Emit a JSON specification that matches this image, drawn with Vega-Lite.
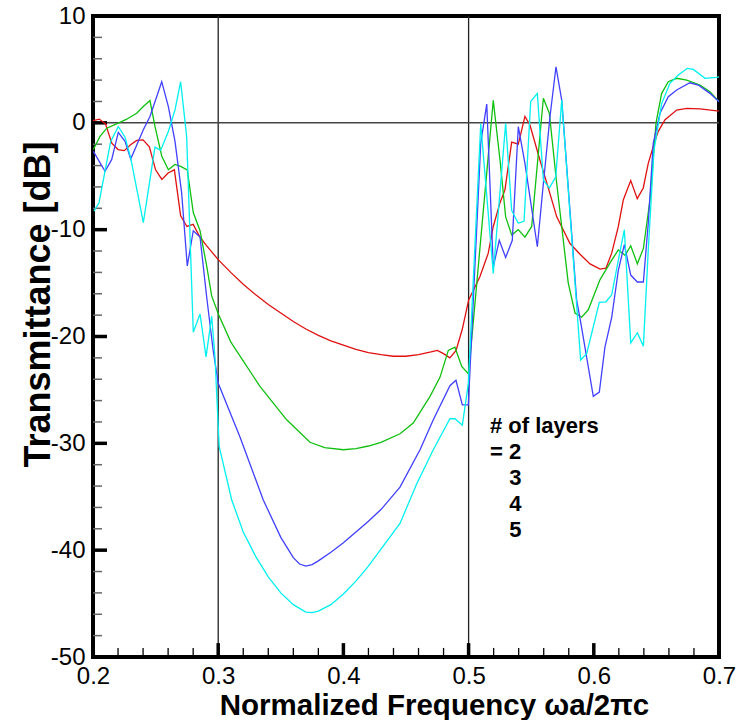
{
  "$schema": "https://vega.github.io/schema/vega-lite/v6.json",
  "width": 626,
  "height": 641,
  "autosize": {"type": "none"},
  "padding": {"left": 93, "top": 16, "right": 22, "bottom": 63},
  "background": "white",
  "config": {
    "font": "Liberation Sans",
    "view": {"stroke": "black", "strokeWidth": 4},
    "axis": {"grid": false, "domain": false, "ticks": false, "labelColor": "black", "titleColor": "black", "labelFont": "Liberation Sans", "titleFont": "Liberation Sans", "labelFlush": false}
  },
  "datasets": {
    "curves": [
      {"f":0.2,"t":0.2,"n":"2"},{"f":0.205,"t":0.35,"n":"2"},{"f":0.21,"t":-0.1,"n":"2"},{"f":0.215,"t":-1.9,"n":"2"},{"f":0.22,"t":-2.5,"n":"2"},{"f":0.225,"t":-2.6,"n":"2"},{"f":0.23,"t":-2.05,"n":"2"},{"f":0.235,"t":-1.65,"n":"2"},{"f":0.24,"t":-1.6,"n":"2"},{"f":0.245,"t":-2.25,"n":"2"},{"f":0.25,"t":-4.4,"n":"2"},{"f":0.255,"t":-5.3,"n":"2"},{"f":0.26,"t":-4.7,"n":"2"},{"f":0.265,"t":-4.4,"n":"2"},{"f":0.27,"t":-8.7,"n":"2"},{"f":0.275,"t":-9.7,"n":"2"},{"f":0.28,"t":-9.5,"n":"2"},{"f":0.285,"t":-10.6,"n":"2"},{"f":0.29,"t":-11.4,"n":"2"},{"f":0.295,"t":-12.1,"n":"2"},{"f":0.3,"t":-12.8,"n":"2"},{"f":0.31,"t":-14.0,"n":"2"},{"f":0.32,"t":-15.1,"n":"2"},{"f":0.33,"t":-16.1,"n":"2"},{"f":0.34,"t":-17.0,"n":"2"},{"f":0.35,"t":-17.8,"n":"2"},{"f":0.36,"t":-18.6,"n":"2"},{"f":0.37,"t":-19.3,"n":"2"},{"f":0.38,"t":-19.9,"n":"2"},{"f":0.39,"t":-20.4,"n":"2"},{"f":0.4,"t":-20.8,"n":"2"},{"f":0.41,"t":-21.2,"n":"2"},{"f":0.42,"t":-21.5,"n":"2"},{"f":0.43,"t":-21.7,"n":"2"},{"f":0.44,"t":-21.85,"n":"2"},{"f":0.45,"t":-21.85,"n":"2"},{"f":0.46,"t":-21.7,"n":"2"},{"f":0.47,"t":-21.45,"n":"2"},{"f":0.475,"t":-21.3,"n":"2"},{"f":0.48,"t":-21.6,"n":"2"},{"f":0.485,"t":-22.0,"n":"2"},{"f":0.49,"t":-21.3,"n":"2"},{"f":0.495,"t":-19.3,"n":"2"},{"f":0.5,"t":-16.6,"n":"2"},{"f":0.509,"t":-14.4,"n":"2"},{"f":0.5157,"t":-12.2,"n":"2"},{"f":0.5197,"t":-9.7,"n":"2"},{"f":0.525,"t":-7.5,"n":"2"},{"f":0.529,"t":-6.3,"n":"2"},{"f":0.5344,"t":-1.8,"n":"2"},{"f":0.5397,"t":-2.0,"n":"2"},{"f":0.545,"t":0.6,"n":"2"},{"f":0.549,"t":-0.2,"n":"2"},{"f":0.557,"t":-3.5,"n":"2"},{"f":0.5624,"t":-5.6,"n":"2"},{"f":0.5704,"t":-8.8,"n":"2"},{"f":0.581,"t":-11.3,"n":"2"},{"f":0.589,"t":-12.3,"n":"2"},{"f":0.597,"t":-13.2,"n":"2"},{"f":0.605,"t":-13.7,"n":"2"},{"f":0.6097,"t":-13.6,"n":"2"},{"f":0.6143,"t":-12.2,"n":"2"},{"f":0.6196,"t":-9.7,"n":"2"},{"f":0.6236,"t":-7.2,"n":"2"},{"f":0.6295,"t":-5.4,"n":"2"},{"f":0.6347,"t":-7.1,"n":"2"},{"f":0.6395,"t":-6.1,"n":"2"},{"f":0.6435,"t":-3.8,"n":"2"},{"f":0.6475,"t":-2.2,"n":"2"},{"f":0.6515,"t":-0.8,"n":"2"},{"f":0.6569,"t":0.3,"n":"2"},{"f":0.6662,"t":1.2,"n":"2"},{"f":0.6742,"t":1.35,"n":"2"},{"f":0.6848,"t":1.3,"n":"2"},{"f":0.7,"t":1.1,"n":"2"},

      {"f":0.2003,"t":-2.5,"n":"3"},{"f":0.2056,"t":-1.27,"n":"3"},{"f":0.211,"t":-0.5,"n":"3"},{"f":0.2202,"t":-0.03,"n":"3"},{"f":0.2269,"t":0.34,"n":"3"},{"f":0.2349,"t":0.9,"n":"3"},{"f":0.2402,"t":1.52,"n":"3"},{"f":0.2455,"t":2.08,"n":"3"},{"f":0.2495,"t":-0.34,"n":"3"},{"f":0.2549,"t":-3.1,"n":"3"},{"f":0.2602,"t":-4.4,"n":"3"},{"f":0.2655,"t":-3.9,"n":"3"},{"f":0.27,"t":-4.07,"n":"3"},{"f":0.2753,"t":-4.4,"n":"3"},{"f":0.2801,"t":-8.4,"n":"3"},{"f":0.2855,"t":-10.1,"n":"3"},{"f":0.2908,"t":-13.4,"n":"3"},{"f":0.2948,"t":-16.2,"n":"3"},{"f":0.3001,"t":-17.9,"n":"3"},{"f":0.31,"t":-20.5,"n":"3"},{"f":0.3335,"t":-24.7,"n":"3"},{"f":0.3547,"t":-27.8,"n":"3"},{"f":0.3733,"t":-29.9,"n":"3"},{"f":0.385,"t":-30.4,"n":"3"},{"f":0.4,"t":-30.6,"n":"3"},{"f":0.41,"t":-30.5,"n":"3"},{"f":0.42,"t":-30.25,"n":"3"},{"f":0.43,"t":-29.9,"n":"3"},{"f":0.4452,"t":-29.1,"n":"3"},{"f":0.4558,"t":-28.1,"n":"3"},{"f":0.4692,"t":-25.6,"n":"3"},{"f":0.4772,"t":-23.8,"n":"3"},{"f":0.4838,"t":-21.3,"n":"3"},{"f":0.4891,"t":-21.0,"n":"3"},{"f":0.4945,"t":-22.8,"n":"3"},{"f":0.5,"t":-23.5,"n":"3"},{"f":0.5197,"t":2.1,"n":"3"},{"f":0.5251,"t":-3.5,"n":"3"},{"f":0.5296,"t":-8.8,"n":"3"},{"f":0.5344,"t":-10.5,"n":"3"},{"f":0.5397,"t":-10.0,"n":"3"},{"f":0.545,"t":-10.7,"n":"3"},{"f":0.5504,"t":-9.7,"n":"3"},{"f":0.5597,"t":2.3,"n":"3"},{"f":0.5645,"t":0.9,"n":"3"},{"f":0.5704,"t":-5.7,"n":"3"},{"f":0.5796,"t":-15.0,"n":"3"},{"f":0.585,"t":-17.8,"n":"3"},{"f":0.5903,"t":-18.2,"n":"3"},{"f":0.5956,"t":-17.5,"n":"3"},{"f":0.6049,"t":-14.7,"n":"3"},{"f":0.6143,"t":-12.85,"n":"3"},{"f":0.6196,"t":-11.9,"n":"3"},{"f":0.625,"t":-12.4,"n":"3"},{"f":0.6295,"t":-11.5,"n":"3"},{"f":0.6348,"t":-13.2,"n":"3"},{"f":0.6396,"t":-11.75,"n":"3"},{"f":0.6449,"t":-7.2,"n":"3"},{"f":0.6497,"t":0.0,"n":"3"},{"f":0.6542,"t":2.76,"n":"3"},{"f":0.6595,"t":3.85,"n":"3"},{"f":0.6662,"t":4.17,"n":"3"},{"f":0.6742,"t":4.0,"n":"3"},{"f":0.6848,"t":3.54,"n":"3"},{"f":0.6928,"t":2.9,"n":"3"},{"f":0.7,"t":1.98,"n":"3"},

      {"f":0.2003,"t":-2.67,"n":"4"},{"f":0.2096,"t":-4.53,"n":"4"},{"f":0.2149,"t":-3.45,"n":"4"},{"f":0.2202,"t":-0.9,"n":"4"},{"f":0.2256,"t":-1.74,"n":"4"},{"f":0.2301,"t":-3.39,"n":"4"},{"f":0.2402,"t":-0.65,"n":"4"},{"f":0.2455,"t":0.59,"n":"4"},{"f":0.2549,"t":3.85,"n":"4"},{"f":0.2602,"t":1.52,"n":"4"},{"f":0.2655,"t":-1.74,"n":"4"},{"f":0.2708,"t":-6.55,"n":"4"},{"f":0.2753,"t":-13.4,"n":"4"},{"f":0.2801,"t":-10.1,"n":"4"},{"f":0.2855,"t":-10.7,"n":"4"},{"f":0.2908,"t":-16.3,"n":"4"},{"f":0.2961,"t":-21.4,"n":"4"},{"f":0.3001,"t":-24.4,"n":"4"},{"f":0.3174,"t":-29.4,"n":"4"},{"f":0.336,"t":-35.3,"n":"4"},{"f":0.35,"t":-38.8,"n":"4"},{"f":0.36,"t":-40.7,"n":"4"},{"f":0.365,"t":-41.3,"n":"4"},{"f":0.37,"t":-41.5,"n":"4"},{"f":0.375,"t":-41.35,"n":"4"},{"f":0.38,"t":-41.0,"n":"4"},{"f":0.39,"t":-40.2,"n":"4"},{"f":0.4,"t":-39.3,"n":"4"},{"f":0.41,"t":-38.3,"n":"4"},{"f":0.42,"t":-37.3,"n":"4"},{"f":0.43,"t":-36.2,"n":"4"},{"f":0.4452,"t":-34.1,"n":"4"},{"f":0.4612,"t":-30.6,"n":"4"},{"f":0.4718,"t":-27.8,"n":"4"},{"f":0.4851,"t":-24.6,"n":"4"},{"f":0.4899,"t":-24.1,"n":"4"},{"f":0.495,"t":-26.4,"n":"4"},{"f":0.4998,"t":-26.4,"n":"4"},{"f":0.5097,"t":-1.9,"n":"4"},{"f":0.5145,"t":1.76,"n":"4"},{"f":0.5197,"t":-13.5,"n":"4"},{"f":0.5245,"t":-11.0,"n":"4"},{"f":0.5296,"t":-12.6,"n":"4"},{"f":0.5349,"t":-11.0,"n":"4"},{"f":0.5397,"t":-0.36,"n":"4"},{"f":0.545,"t":-3.8,"n":"4"},{"f":0.5549,"t":-11.6,"n":"4"},{"f":0.5597,"t":-5.7,"n":"4"},{"f":0.565,"t":0.57,"n":"4"},{"f":0.5698,"t":5.25,"n":"4"},{"f":0.5744,"t":2.1,"n":"4"},{"f":0.5863,"t":-16.6,"n":"4"},{"f":0.589,"t":-18.3,"n":"4"},{"f":0.5996,"t":-25.6,"n":"4"},{"f":0.6044,"t":-25.2,"n":"4"},{"f":0.6089,"t":-21.0,"n":"4"},{"f":0.6143,"t":-18.2,"n":"4"},{"f":0.6196,"t":-13.8,"n":"4"},{"f":0.6244,"t":-11.4,"n":"4"},{"f":0.6295,"t":-14.25,"n":"4"},{"f":0.6348,"t":-14.9,"n":"4"},{"f":0.6396,"t":-14.9,"n":"4"},{"f":0.6435,"t":-9.4,"n":"4"},{"f":0.6475,"t":-1.9,"n":"4"},{"f":0.6529,"t":0.9,"n":"4"},{"f":0.6595,"t":2.44,"n":"4"},{"f":0.6662,"t":3.07,"n":"4"},{"f":0.6768,"t":3.75,"n":"4"},{"f":0.6834,"t":3.54,"n":"4"},{"f":0.6928,"t":2.76,"n":"4"},{"f":0.7,"t":1.98,"n":"4"},

      {"f":0.2008,"t":-8.26,"n":"5"},{"f":0.2048,"t":-7.48,"n":"5"},{"f":0.2141,"t":-1.74,"n":"5"},{"f":0.2202,"t":-0.34,"n":"5"},{"f":0.2256,"t":-1.34,"n":"5"},{"f":0.2301,"t":-3.29,"n":"5"},{"f":0.2402,"t":-9.35,"n":"5"},{"f":0.2495,"t":-2.27,"n":"5"},{"f":0.254,"t":-2.58,"n":"5"},{"f":0.2602,"t":-0.81,"n":"5"},{"f":0.2655,"t":1.21,"n":"5"},{"f":0.27,"t":3.85,"n":"5"},{"f":0.2748,"t":-1.27,"n":"5"},{"f":0.2801,"t":-19.6,"n":"5"},{"f":0.2855,"t":-17.9,"n":"5"},{"f":0.2903,"t":-21.9,"n":"5"},{"f":0.2948,"t":-18.1,"n":"5"},{"f":0.2974,"t":-21.9,"n":"5"},{"f":0.3008,"t":-30.3,"n":"5"},{"f":0.3108,"t":-35.3,"n":"5"},{"f":0.32,"t":-38.3,"n":"5"},{"f":0.33,"t":-40.6,"n":"5"},{"f":0.34,"t":-42.5,"n":"5"},{"f":0.35,"t":-44.0,"n":"5"},{"f":0.36,"t":-45.1,"n":"5"},{"f":0.37,"t":-45.8,"n":"5"},{"f":0.375,"t":-45.85,"n":"5"},{"f":0.38,"t":-45.7,"n":"5"},{"f":0.39,"t":-45.1,"n":"5"},{"f":0.4,"t":-44.1,"n":"5"},{"f":0.41,"t":-42.9,"n":"5"},{"f":0.42,"t":-41.5,"n":"5"},{"f":0.43,"t":-39.9,"n":"5"},{"f":0.4452,"t":-37.5,"n":"5"},{"f":0.4585,"t":-33.8,"n":"5"},{"f":0.4718,"t":-30.6,"n":"5"},{"f":0.4851,"t":-27.7,"n":"5"},{"f":0.4891,"t":-27.7,"n":"5"},{"f":0.495,"t":-28.3,"n":"5"},{"f":0.4998,"t":-24.4,"n":"5"},{"f":0.5097,"t":-0.1,"n":"5"},{"f":0.5197,"t":-14.1,"n":"5"},{"f":0.5296,"t":-0.05,"n":"5"},{"f":0.5344,"t":-8.2,"n":"5"},{"f":0.5397,"t":-9.4,"n":"5"},{"f":0.5443,"t":-9.2,"n":"5"},{"f":0.5496,"t":2.0,"n":"5"},{"f":0.5549,"t":2.76,"n":"5"},{"f":0.5597,"t":-5.36,"n":"5"},{"f":0.5645,"t":-6.1,"n":"5"},{"f":0.5696,"t":-5.05,"n":"5"},{"f":0.5744,"t":2.13,"n":"5"},{"f":0.5895,"t":-22.2,"n":"5"},{"f":0.5943,"t":-21.6,"n":"5"},{"f":0.6044,"t":-16.8,"n":"5"},{"f":0.6097,"t":-16.75,"n":"5"},{"f":0.6143,"t":-16.1,"n":"5"},{"f":0.6196,"t":-12.85,"n":"5"},{"f":0.6244,"t":-10.0,"n":"5"},{"f":0.6295,"t":-20.6,"n":"5"},{"f":0.6348,"t":-19.65,"n":"5"},{"f":0.6396,"t":-20.9,"n":"5"},{"f":0.6435,"t":-11.9,"n":"5"},{"f":0.6481,"t":-2.55,"n":"5"},{"f":0.6542,"t":1.8,"n":"5"},{"f":0.6608,"t":3.7,"n":"5"},{"f":0.6675,"t":4.47,"n":"5"},{"f":0.6747,"t":5.1,"n":"5"},{"f":0.6795,"t":5.0,"n":"5"},{"f":0.6888,"t":4.17,"n":"5"},{"f":0.6981,"t":4.26,"n":"5"},{"f":0.7,"t":4.3,"n":"5"}
    ],
    "vlines": [{"f": 0.3}, {"f": 0.5}],
    "hline": [{"t": 0}],
    "xMajor": [{"v":0.3},{"v":0.4},{"v":0.5},{"v":0.6}],
    "xMinor": [{"v":0.22},{"v":0.24},{"v":0.26},{"v":0.28},{"v":0.32},{"v":0.34},{"v":0.36},{"v":0.38},{"v":0.42},{"v":0.44},{"v":0.46},{"v":0.48},{"v":0.52},{"v":0.54},{"v":0.56},{"v":0.58},{"v":0.62},{"v":0.64},{"v":0.66},{"v":0.68}],
    "yMajor": [{"v":0},{"v":-10},{"v":-20},{"v":-30},{"v":-40}],
    "yMinor": [{"v":8},{"v":6},{"v":4},{"v":2},{"v":-2},{"v":-4},{"v":-6},{"v":-8},{"v":-12},{"v":-14},{"v":-16},{"v":-18},{"v":-22},{"v":-24},{"v":-26},{"v":-28},{"v":-32},{"v":-34},{"v":-36},{"v":-38},{"v":-42},{"v":-44},{"v":-46},{"v":-48}],
    "legendText": [
      {"f": 0.5171, "t": -29.05, "label": "# of layers"},
      {"f": 0.5171, "t": -31.45, "label": "= 2"},
      {"f": 0.5325, "t": -33.9, "label": "3"},
      {"f": 0.5325, "t": -36.3, "label": "4"},
      {"f": 0.5325, "t": -38.8, "label": "5"}
    ]
  },
  "resolve": {"axis": {"x": "independent", "y": "independent"}},
  "layer": [
    {
      "data": {"name": "vlines"},
      "mark": {"type": "rule", "color": "#222", "strokeWidth": 1.3},
      "encoding": {
        "x": {"field": "f", "type": "quantitative", "scale": {"domain": [0.2, 0.7], "nice": false, "zero": false}, "axis": null}
      }
    },
    {
      "data": {"name": "hline"},
      "mark": {"type": "rule", "color": "#444", "strokeWidth": 1.5},
      "encoding": {
        "y": {"field": "t", "type": "quantitative", "scale": {"domain": [-50, 10], "nice": false, "zero": false}, "axis": null}
      }
    },
    {
      "data": {"name": "xMinor"},
      "mark": {"type": "rule", "color": "black", "strokeWidth": 1.3},
      "encoding": {
        "x": {"field": "v", "type": "quantitative", "scale": {"domain": [0.2, 0.7], "nice": false, "zero": false}, "axis": null},
        "y": {"datum": -50, "type": "quantitative", "axis": null},
        "y2": {"datum": -49.15}
      }
    },
    {
      "data": {"name": "xMajor"},
      "mark": {"type": "rule", "color": "black", "strokeWidth": 3.5},
      "encoding": {
        "x": {"field": "v", "type": "quantitative", "scale": {"domain": [0.2, 0.7], "nice": false, "zero": false}, "axis": null},
        "y": {"datum": -50, "type": "quantitative", "axis": null},
        "y2": {"datum": -48.7}
      }
    },
    {
      "data": {"name": "yMinor"},
      "mark": {"type": "rule", "color": "#666", "strokeWidth": 1.5},
      "encoding": {
        "y": {"field": "v", "type": "quantitative", "scale": {"domain": [-50, 10], "nice": false, "zero": false}, "axis": null},
        "x": {"datum": 0.2, "type": "quantitative", "axis": null},
        "x2": {"datum": 0.2072}
      }
    },
    {
      "data": {"name": "yMajor"},
      "mark": {"type": "rule", "color": "black", "strokeWidth": 3.5},
      "encoding": {
        "y": {"field": "v", "type": "quantitative", "scale": {"domain": [-50, 10], "nice": false, "zero": false}, "axis": null},
        "x": {"datum": 0.2, "type": "quantitative", "axis": null},
        "x2": {"datum": 0.2112}
      }
    },
    {
      "data": {"name": "curves"},
      "mark": {"type": "line", "strokeWidth": 1.3},
      "encoding": {
        "x": {
          "field": "f", "type": "quantitative",
          "scale": {"domain": [0.2, 0.7], "nice": false, "zero": false},
          "axis": {"orient": "bottom", "values": [0.2,0.3,0.4,0.5,0.6,0.7], "format": ".1f", "ticks": false,
                   "labelFontSize": 24, "labelPadding": 7,
                   "title": "Normalized Frequency ωa/2πc", "titleFontSize": 29.5, "titleFontWeight": "bold",
                   "titleX": 341, "titleY": 57, "titleAlign": "center", "titleBaseline": "alphabetic"}
        },
        "y": {
          "field": "t", "type": "quantitative",
          "scale": {"domain": [-50, 10], "nice": false, "zero": false},
          "axis": {"orient": "left", "values": [10,0,-10,-20,-30,-40,-50], "labelExpr": "'' + datum.value", "ticks": false,
                   "labelFontSize": 24, "labelPadding": 8,
                   "title": "Transmittance [dB]", "titleFontSize": 36, "titleFontWeight": "bold",
                   "titleX": -55, "titleY": 288, "titleAngle": -90, "titleAlign": "center", "titleBaseline": "middle"}
        },
        "color": {
          "field": "n", "type": "nominal",
          "scale": {"domain": ["2","3","4","5"], "range": ["#e01010","#10c010","#4040ff","#00f0f0"]},
          "legend": null
        },
        "order": {"field": "f", "type": "quantitative"}
      }
    },
    {
      "data": {"name": "legendText"},
      "mark": {"type": "text", "align": "left", "baseline": "alphabetic", "fontSize": 22, "fontWeight": "bold", "font": "Liberation Sans", "color": "black"},
      "encoding": {
        "x": {"field": "f", "type": "quantitative", "scale": {"domain": [0.2, 0.7], "nice": false, "zero": false}, "axis": null},
        "y": {"field": "t", "type": "quantitative", "scale": {"domain": [-50, 10], "nice": false, "zero": false}, "axis": null},
        "text": {"field": "label"}
      }
    }
  ]
}
